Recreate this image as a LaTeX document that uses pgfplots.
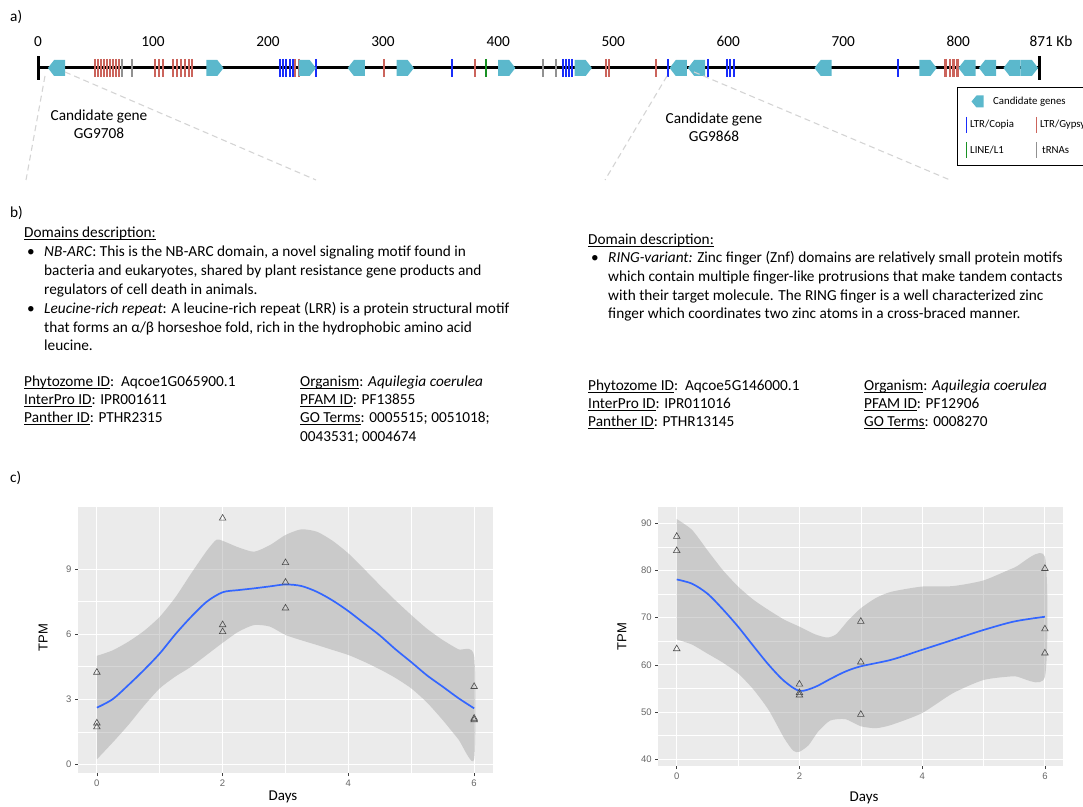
\documentclass[border=0pt]{standalone}
\usepackage{pgfplots}
\pgfplotsset{compat=1.18}
\usepackage{fontspec}
\setmainfont{Carlito}
\newfontfamily\arial{Liberation Sans}
\definecolor{genec}{RGB}{91,184,204}
\definecolor{gypsy}{RGB}{203,100,92}
\definecolor{copia}{RGB}{25,45,250}
\definecolor{linec}{RGB}{25,145,35}
\definecolor{trna}{RGB}{145,145,145}
\definecolor{panelbg}{RGB}{235,235,235}
\definecolor{ggblue}{RGB}{51,102,255}
\definecolor{zoomc}{RGB}{212,212,212}
\newcommand\ul[1]{\setbox0\hbox{#1}\rlap{\rule[-2.3pt]{\wd0}{0.9pt}}\box0}
\pgfdeclareplotmark{geneL}{%
 \pgfpathmoveto{\pgfqpoint{-8.6pt}{0pt}}%
 \pgfpathlineto{\pgfqpoint{-2.4pt}{8pt}}%
 \pgfpathlineto{\pgfqpoint{8.6pt}{8pt}}%
 \pgfpathlineto{\pgfqpoint{8.6pt}{-8pt}}%
 \pgfpathlineto{\pgfqpoint{-2.4pt}{-8pt}}%
 \pgfpathclose\pgfusepathqfill}
\pgfdeclareplotmark{geneR}{%
 \pgfpathmoveto{\pgfqpoint{8.6pt}{0pt}}%
 \pgfpathlineto{\pgfqpoint{2.4pt}{8pt}}%
 \pgfpathlineto{\pgfqpoint{-8.6pt}{8pt}}%
 \pgfpathlineto{\pgfqpoint{-8.6pt}{-8pt}}%
 \pgfpathlineto{\pgfqpoint{2.4pt}{-8pt}}%
 \pgfpathclose\pgfusepathqfill}
\pgfplotsset{ggp/.style={scale only axis, axis line style={draw=none}, tick align=outside,
 xtick pos=bottom, ytick pos=left,
 major tick length=3pt, minor tick length=0pt, tick style={color=black!75, line width=0.6pt},
 grid=both, major grid style={white, line width=1.1pt}, minor grid style={white, line width=0.5pt},
 minor x tick num=1, minor y tick num=1, axis background/.style={fill=panelbg},
 ticklabel style={font=\fontsize{9.5}{9.5}\arial, text=black!60},
 /pgf/number format/assume math mode=true,
 xtick={0,2,4,6}, xmin=-0.3, xmax=6.3,
 xlabel={Days}, ylabel={TPM},
 xlabel style={font=\fontsize{15}{15}\selectfont, anchor=center},
 ylabel style={font=\fontsize{13}{13}\arial, anchor=center}}}
\tikzset{txt/.style={anchor=base west, inner sep=0pt, font=\fontsize{15.3}{19}\selectfont},
 lg/.style={anchor=base west, inner sep=0pt, font=\fontsize{10.8}{12}\selectfont}}
\begin{document}
\begin{tikzpicture}[x=1pt,y=1pt]
\useasboundingbox (0pt,0pt) rectangle (1083pt,806pt);
% ---------------- panel a: genome track ----------------
\begin{axis}[at={(38pt,718pt)}, anchor=south west, scale only axis, width=1002pt, height=40pt,
 xmin=0, xmax=871, ymin=-1, ymax=1, clip=false,
 axis line style={draw=none}, ytick=\empty, xtick={0,100,200,300,400,500,600,700,800},
 xticklabel pos=upper, major tick length=0pt,
 xticklabel style={anchor=base, inner sep=0pt, yshift=1pt, font=\fontsize{15.3}{15.3}\selectfont},
 extra x ticks={871}, extra x tick labels={871 Kb},
 extra x tick style={xticklabel style={xshift=11pt}},
 /pgf/number format/assume math mode=true]
\addplot[black, line width=3pt] coordinates {(0,0) (871,0)};
\addplot[black, line width=3pt] coordinates {(0,-0.6) (0,0.6)};
\addplot[black, line width=3pt] coordinates {(871,-0.6) (871,0.6)};
% LTR/Gypsy
\addplot[only marks, mark=|, mark size=9pt, mark options={draw=gypsy, line width=2.1pt}] coordinates {
 (49.5,0) (52.1,0) (54.7,0) (57.3,0) (59.9,0) (62.6,0) (65.2,0) (67.8,0) (70.4,0)
 (101.7,0) (105.1,0) (108.6,0)
 (117.3,0) (120.8,0) (124.2,0) (127.7,0) (131.2,0) (133.8,0)
 (223.3,0) (226.8,0) (300.6,0) (379.7,0) (493.5,0) (496.1,0) (536.9,0)
 (788.9,0) (792.4,0) (795.8,0) (799.3,0)};
% LTR/Copia
\addplot[only marks, mark=|, mark size=9pt, mark options={draw=copia, line width=2.1pt}] coordinates {
 (210.3,0) (212.9,0) (215.5,0) (218.9,0) (221.5,0) (241.5,0) (359.7,0)
 (456.1,0) (458.7,0) (461.3,0) (463.9,0) (547.4,0) (582.1,0)
 (598.6,0) (601.2,0) (604.7,0) (747.2,0)};
% LINE/L1
\addplot[only marks, mark=|, mark size=9pt, mark options={draw=linec, line width=2.1pt}] coordinates {(389.2,0)};
% tRNAs
\addplot[only marks, mark=|, mark size=9pt, mark options={draw=trna, line width=2.1pt}] coordinates {
 (73.0,0) (81.7,0) (438.7,0) (450.0,0)};
% candidate genes
\addplot[only marks, mark=geneL, mark options={fill=genec}] coordinates {
 (16.1,0) (276.7,0) (556.5,0) (572.5,0) (682.5,0) (807.6,0) (825.4,0) (846.7,0)};
\addplot[only marks, mark=geneR, mark options={fill=genec}] coordinates {
 (153.8,0) (234.1,0) (319.3,0) (407.5,0) (474.0,0) (773.7,0) (861.9,0)};
\end{axis}
% ---------------- panel c: left plot ----------------
\begin{axis}[ggp, at={(78pt,33pt)}, anchor=south west, width=415pt, height=266pt,
 ymin=-0.4, ymax=11.86, ytick={0,3,6,9},
 xlabel style={at={(axis description cs:0.494,-0.090)}},
 ylabel style={at={(axis description cs:-0.084,0.51)}}]
\addplot[fill=black!40, fill opacity=0.4, draw=none, smooth, tension=0.4] coordinates {
 (0,5.0) (0.25,5.25) (0.5,5.65) (0.75,6.15) (1,6.8) (1.25,7.7) (1.5,8.8) (1.75,9.85) (1.9,10.35)
 (2,10.3) (2.25,10.0) (2.5,9.8) (2.75,10.1) (3,10.57) (3.25,10.83) (3.5,10.72) (3.75,10.3)
 (4,9.72) (4.25,9.0) (4.5,8.26) (4.75,7.55) (5,6.88) (5.25,6.25) (5.5,5.73) (5.75,5.3) (6,4.99)
 (6,0.23) (5.75,1.15) (5.5,2.04) (5.25,2.85) (5,3.5) (4.75,3.98) (4.5,4.38) (4.25,4.73) (4,5.04)
 (3.75,5.27) (3.5,5.5) (3.25,5.72) (3,5.96) (2.75,6.35) (2.5,6.42) (2.25,6.11) (2,5.6)
 (1.75,5.05) (1.5,4.5) (1.25,4.05) (1,3.5) (0.75,2.7) (0.5,1.81) (0.25,1.0) (0,0.23)};
\addplot[ggblue, line width=1.7pt, smooth] coordinates {
 (0,2.61) (0.25,3.0) (0.5,3.65) (0.75,4.35) (1,5.11) (1.25,6.0) (1.5,6.8) (1.75,7.5) (2,7.93)
 (2.25,8.03) (2.5,8.11) (2.75,8.2) (3,8.29) (3.25,8.22) (3.5,7.95) (3.75,7.55) (4,7.06)
 (4.25,6.5) (4.5,5.94) (4.75,5.3) (5,4.71) (5.25,4.1) (5.5,3.58) (5.75,3.05) (6,2.58)};
\addplot[only marks, mark=triangle, mark size=3.8pt, mark options={draw=black!70, line width=0.6pt}] coordinates {
 (0,4.24) (0,1.90) (0,1.72) (2,11.34) (2,6.43) (2,6.11) (3,9.29) (3,8.39) (3,7.20)
 (6,3.58) (6,2.12) (6,2.05)};
\end{axis}
% ---------------- panel c: right plot ----------------
\begin{axis}[ggp, at={(658.3pt,40pt)}, anchor=south west, width=405pt, height=259pt,
 ymin=38.58, ymax=93.45, ytick={40,50,60,70,80,90},
 xlabel style={at={(axis description cs:0.508,-0.124)}},
 ylabel style={at={(axis description cs:-0.090,0.5)}}]
\addplot[fill=black!40, fill opacity=0.4, draw=none, smooth, tension=0.4] coordinates {
 (0,90.9) (0.25,88.6) (0.5,84.3) (0.75,80.1) (1,76.6) (1.25,73.8) (1.5,71.6) (1.75,69.6)
 (2,68.1) (2.25,66.5) (2.45,65.8) (2.6,66.5) (2.8,69.5) (3,72.0) (3.25,74.2) (3.5,75.5)
 (4,76.6) (4.5,76.7) (5,77.9) (5.5,80.6) (6,82.9)
 (6,57.5) (5.5,57.6) (5,56.8) (4.5,54.0) (4,49.8) (3.5,47.3) (3.25,46.6) (3,47.0) (2.75,48.5)
 (2.5,48.2) (2.3,45.8) (2.15,43.0) (2,41.6) (1.9,41.8) (1.75,44.5) (1.5,50.4) (1.25,54.8)
 (1,58.2) (0.75,60.5) (0.5,62.4) (0.25,64.3) (0,65.4)};
\addplot[ggblue, line width=1.7pt, smooth] coordinates {
 (0,78.1) (0.25,77.2) (0.5,75.1) (0.75,71.8) (1,68.1) (1.25,64.0) (1.5,60.0) (1.75,56.6)
 (2,54.5) (2.25,55.3) (2.5,57.0) (2.75,58.6) (3,59.7) (3.5,61.1) (4,63.2) (4.5,65.3)
 (5,67.4) (5.5,69.2) (6,70.2)};
\addplot[only marks, mark=triangle, mark size=3.8pt, mark options={draw=black!70, line width=0.6pt}] coordinates {
 (0,87.2) (0,84.2) (0,63.4) (2,55.9) (2,54.1) (2,53.6) (3,69.2) (3,60.6) (3,49.5)
 (6,80.4) (6,67.6) (6,62.5)};
\end{axis}
% ---------------- texts (image coordinates, y downward) ----------------
\begin{scope}[yshift=806pt, y=-1pt]
\node[txt] at (10,22) {a)};
\node[txt] at (10,218) {b)};
\node[txt] at (10,483) {c)};
% zoom lines
\draw[zoomc, line width=1.1pt, dash pattern=on 6pt off 4pt] (45,76) -- (26,180);
\draw[zoomc, line width=1.1pt, dash pattern=on 6pt off 4pt] (65,72) -- (316,180);
\draw[zoomc, line width=1.1pt, dash pattern=on 6pt off 4pt] (667,76) -- (605,180);
\draw[zoomc, line width=1.1pt, dash pattern=on 6pt off 4pt] (694,72) -- (950,180);
\node[txt, anchor=base] at (99,121) {Candidate gene};
\node[txt, anchor=base] at (99,139) {GG9708};
\node[txt, anchor=base] at (714,124) {Candidate gene};
\node[txt, anchor=base] at (714,142) {GG9868};
% legend
\fill[white] (957,87) rectangle (1095,165);
\draw[black, line width=0.9pt] (957,87) rectangle (1095,165);
\fill[genec] (971.5,101.5) -- (976.5,95.5) -- (983.5,95.5) -- (983.5,107.5) -- (976.5,107.5) -- cycle;
\node[lg] at (993,105) {Candidate genes};
\draw[copia, line width=1.6pt] (966.5,117) -- (966.5,133);
\node[lg] at (970,128) {LTR/Copia};
\draw[gypsy, line width=1.6pt] (1036.5,117) -- (1036.5,133);
\node[lg] at (1040,128) {LTR/Gypsy};
\draw[linec, line width=1.6pt] (966.5,142) -- (966.5,158);
\node[lg] at (970,154) {LINE/L1};
\draw[trna, line width=1.6pt] (1036.5,142) -- (1036.5,158);
\node[lg] at (1042,154) {tRNAs};
% panel b left
\node[txt] at (24,238) {\ul{Domains description:}};
\node[txt] at (27,257) {•};
\node[txt] at (44,257) {\textit{NB-ARC}: This is the NB-ARC domain, a novel signaling motif found in};
\node[txt] at (44,276) {bacteria and eukaryotes, shared by plant resistance gene products and};
\node[txt] at (44,295) {regulators of cell death in animals.};
\node[txt] at (27,314) {•};
\node[txt] at (44,314) {\textit{Leucine-rich repeat}: A leucine-rich repeat (LRR) is a protein structural motif};
\node[txt] at (44,333) {that forms an α/β horseshoe fold, rich in the hydrophobic amino acid};
\node[txt] at (44,351) {leucine.};
\node[txt] at (24,387) {\ul{Phytozome ID}:\ \ Aqcoe1G065900.1};
\node[txt] at (24,405) {\ul{InterPro ID}: IPR001611};
\node[txt] at (24,423) {\ul{Panther ID}: PTHR2315};
\node[txt] at (300,387) {\ul{Organism}: \textit{Aquilegia coerulea}};
\node[txt] at (300,405) {\ul{PFAM ID}: PF13855};
\node[txt] at (300,423) {\ul{GO Terms}: 0005515; 0051018;};
\node[txt] at (300,442) {0043531; 0004674};
% panel b right
\node[txt] at (588,245) {\ul{Domain description:}};
\node[txt] at (591,263) {•};
\node[txt] at (608,263) {\textit{RING-variant:} Zinc finger (Znf) domains are relatively small protein motifs};
\node[txt] at (608,282) {which contain multiple finger-like protrusions that make tandem contacts};
\node[txt] at (608,301) {with their target molecule. The RING finger is a well characterized zinc};
\node[txt] at (608,319) {finger which coordinates two zinc atoms in a cross-braced manner.};
\node[txt] at (588,391) {\ul{Phytozome ID}:\ \ Aqcoe5G146000.1};
\node[txt] at (588,409) {\ul{InterPro ID}: IPR011016};
\node[txt] at (588,427) {\ul{Panther ID}: PTHR13145};
\node[txt] at (864,391) {\ul{Organism}: \textit{Aquilegia coerulea}};
\node[txt] at (864,409) {\ul{PFAM ID}: PF12906};
\node[txt] at (864,427) {\ul{GO Terms}: 0008270};
\end{scope}
\end{tikzpicture}
\end{document}
